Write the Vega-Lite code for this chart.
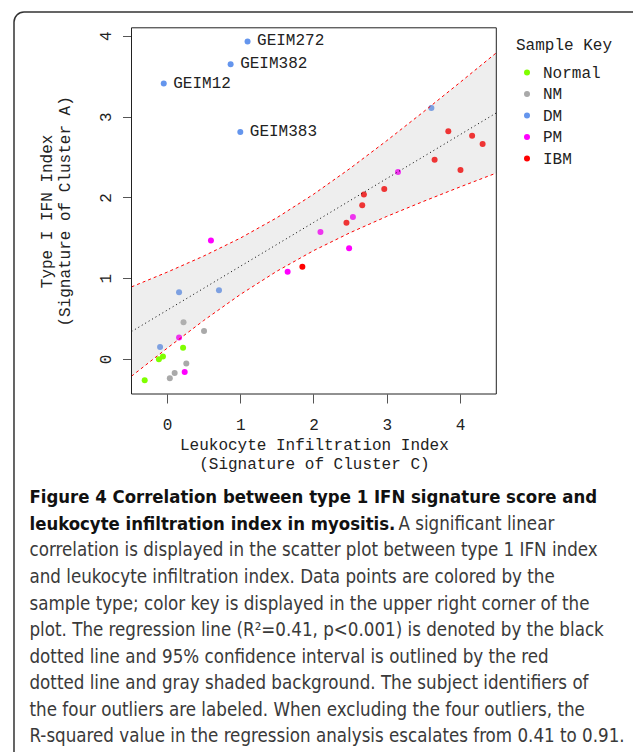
{
  "$schema": "https://vega.github.io/schema/vega-lite/v6.json",
  "width": 619,
  "height": 740,
  "autosize": {"type": "none"},
  "padding": {"left": 14, "top": 12, "right": 0, "bottom": 0},
  "background": "white",
  "config": {"view": {"stroke": null}, "font": "Liberation Mono"},
  "datasets": {
    "points": [
      {"x": 1.100, "y": 3.930, "type": "DM", "label": "GEIM272"},
      {"x": 0.869, "y": 3.649, "type": "DM", "label": "GEIM382"},
      {"x": -0.044, "y": 3.409, "type": "DM", "label": "GEIM12"},
      {"x": 1.001, "y": 2.810, "type": "DM", "label": "GEIM383"},
      {"x": 3.609, "y": 3.107, "type": "DM", "label": null},
      {"x": 0.165, "y": 0.826, "type": "DM", "label": null},
      {"x": 0.710, "y": 0.851, "type": "DM", "label": null},
      {"x": -0.094, "y": 0.149, "type": "DM", "label": null},
      {"x": 3.840, "y": 2.818, "type": "IBM", "label": null},
      {"x": 4.165, "y": 2.764, "type": "IBM", "label": null},
      {"x": 4.308, "y": 2.661, "type": "IBM", "label": null},
      {"x": 3.653, "y": 2.467, "type": "IBM", "label": null},
      {"x": 4.006, "y": 2.339, "type": "IBM", "label": null},
      {"x": 2.966, "y": 2.103, "type": "IBM", "label": null},
      {"x": 2.688, "y": 2.034, "type": "IBM", "label": null},
      {"x": 2.665, "y": 1.902, "type": "IBM", "label": null},
      {"x": 2.450, "y": 1.685, "type": "IBM", "label": null},
      {"x": 1.848, "y": 1.140, "type": "IBM", "label": null},
      {"x": 3.153, "y": 2.314, "type": "PM", "label": null},
      {"x": 2.538, "y": 1.758, "type": "PM", "label": null},
      {"x": 2.095, "y": 1.571, "type": "PM", "label": null},
      {"x": 2.486, "y": 1.371, "type": "PM", "label": null},
      {"x": 1.647, "y": 1.080, "type": "PM", "label": null},
      {"x": 0.600, "y": 1.467, "type": "PM", "label": null},
      {"x": 0.165, "y": 0.264, "type": "PM", "label": null},
      {"x": 0.242, "y": -0.161, "type": "PM", "label": null},
      {"x": 0.226, "y": 0.455, "type": "NM", "label": null},
      {"x": 0.506, "y": 0.347, "type": "NM", "label": null},
      {"x": 0.264, "y": -0.058, "type": "NM", "label": null},
      {"x": 0.105, "y": -0.174, "type": "NM", "label": null},
      {"x": 0.039, "y": -0.240, "type": "NM", "label": null},
      {"x": 0.220, "y": 0.140, "type": "Normal", "label": null},
      {"x": -0.055, "y": 0.029, "type": "Normal", "label": null},
      {"x": -0.110, "y": -0.004, "type": "Normal", "label": null},
      {"x": -0.304, "y": -0.264, "type": "Normal", "label": null}
    ],
    "band": [
      {"bx": -0.484, "fit": 0.339, "lo": -0.214, "hi": 0.892},
      {"bx": 0.0, "fit": 0.602, "lo": 0.131, "hi": 1.073},
      {"bx": 0.5, "fit": 0.874, "lo": 0.475, "hi": 1.273},
      {"bx": 1.0, "fit": 1.146, "lo": 0.797, "hi": 1.495},
      {"bx": 1.5, "fit": 1.417, "lo": 1.086, "hi": 1.748},
      {"bx": 2.0, "fit": 1.689, "lo": 1.340, "hi": 2.038},
      {"bx": 2.5, "fit": 1.961, "lo": 1.563, "hi": 2.359},
      {"bx": 3.0, "fit": 2.233, "lo": 1.764, "hi": 2.702},
      {"bx": 3.5, "fit": 2.504, "lo": 1.950, "hi": 3.058},
      {"bx": 4.0, "fit": 2.776, "lo": 2.129, "hi": 3.423},
      {"bx": 4.495, "fit": 3.045, "lo": 2.301, "hi": 3.789}
    ],
    "caption": [
      {"line": 1, "part": "title", "text": "Figure 4 Correlation between type 1 IFN signature score and"},
      {"line": 2, "part": "title", "text": "leukocyte infiltration index in myositis."},
      {"line": 2, "part": "lead", "text": "A significant linear"},
      {"line": 3, "part": "body", "text": "correlation is displayed in the scatter plot between type 1 IFN index"},
      {"line": 4, "part": "body", "text": "and leukocyte infiltration index. Data points are colored by the"},
      {"line": 5, "part": "body", "text": "sample type; color key is displayed in the upper right corner of the"},
      {"line": 6, "part": "body", "text": "plot. The regression line (R²=0.41, p<0.001) is denoted by the black"},
      {"line": 7, "part": "body", "text": "dotted line and 95% confidence interval is outlined by the red"},
      {"line": 8, "part": "body", "text": "dotted line and gray shaded background. The subject identifiers of"},
      {"line": 9, "part": "body", "text": "the four outliers are labeled. When excluding the four outliers, the"},
      {"line": 10, "part": "body", "text": "R-squared value in the regression analysis escalates from 0.41 to 0.91."}
    ]
  },
  "layer": [
    {
      "data": {"values": [{}]},
      "mark": {"type": "rect", "fill": "white", "fillOpacity": 0, "stroke": "#333333", "strokeWidth": 1.5, "cornerRadius": 10, "clip": false},
      "encoding": {
        "x": {"datum": 0, "type": "quantitative", "scale": {"domain": [0, 1], "range": [0, 619]}, "axis": null},
        "x2": {"datum": 1.1},
        "y": {"datum": 0, "type": "quantitative", "scale": {"domain": [0, 1], "range": [0, 740]}, "axis": null},
        "y2": {"datum": 1.1}
      }
    },
    {
      "data": {"name": "points"},
      "layer": [
        {
          "mark": {"type": "circle", "size": 36, "opacity": 1, "strokeWidth": 0},
          "encoding": {
            "x": {
              "field": "x", "type": "quantitative",
              "scale": {"domain": [-0.484, 4.495], "range": [117.5, 482.3], "nice": false, "zero": false},
              "axis": {
                "orient": "bottom", "offset": -358, "domain": false, "grid": false, "format": "d",
                "values": [0, 1, 2, 3, 4], "tickSize": 9, "tickColor": "#555555", "tickWidth": 1,
                "labelFont": "Liberation Mono", "labelFontSize": 16, "labelColor": "#222222", "labelPadding": 13,
                "title": ["Leukocyte Infiltration Index", "(Signature of Cluster C)"],
                "titleFont": "Liberation Mono", "titleFontSize": 16, "titleFontWeight": "normal", "titleColor": "#222222",
                "titleLineHeight": 19.6, "titleBaseline": "alphabetic", "titleY": 55
              }
            },
            "y": {
              "field": "y", "type": "quantitative",
              "scale": {"domain": [-0.434, 4.099], "range": [382, 15.8], "nice": false, "zero": false},
              "axis": {
                "orient": "left", "offset": -117.5, "domain": false, "grid": false, "format": "d",
                "values": [0, 1, 2, 3, 4], "tickSize": 9, "tickColor": "#555555", "tickWidth": 1,
                "labelFont": "Liberation Mono", "labelFontSize": 16, "labelColor": "#222222", "labelPadding": 12,
                "labelAngle": 270, "labelAlign": "center", "labelBaseline": "alphabetic",
                "title": ["Type I IFN Index", "(Signature of Cluster A)"],
                "titleFont": "Liberation Mono", "titleFontSize": 16, "titleFontWeight": "normal", "titleColor": "#222222",
                "titleLineHeight": 18, "titleBaseline": "alphabetic", "titleAngle": 270, "titleX": -80.5
              }
            },
            "color": {
              "field": "type", "type": "nominal",
              "scale": {"domain": ["Normal", "NM", "DM", "PM", "IBM"], "range": ["#7FFF00", "#A9A9A9", "#6495ED", "#FF00FF", "#FF0000"]},
              "legend": {
                "title": "Sample Key", "orient": "none", "legendX": 502, "legendY": 25, "padding": 0,
                "titleFont": "Liberation Mono", "titleFontSize": 16, "titleFontWeight": "normal", "titleColor": "#222222", "titlePadding": 11.5,
                "labelFont": "Liberation Mono", "labelFontSize": 16, "labelColor": "#222222",
                "symbolType": "circle", "symbolSize": 36, "symbolStrokeWidth": 0, "symbolOpacity": 1,
                "symbolOffset": 3, "labelOffset": 8, "rowPadding": 5.5
              }
            }
          }
        },
        {
          "data": {"name": "band"},
          "mark": {"type": "area", "fill": "#bfbfbf", "opacity": 0.27},
          "encoding": {
            "x": {"field": "bx", "type": "quantitative"},
            "y": {"field": "lo", "type": "quantitative"},
            "y2": {"field": "hi"}
          }
        },
        {
          "data": {"name": "band"},
          "mark": {"type": "line", "stroke": "#ff0000", "strokeWidth": 1, "strokeDash": [3, 3]},
          "encoding": {
            "x": {"field": "bx", "type": "quantitative"},
            "y": {"field": "hi", "type": "quantitative"}
          }
        },
        {
          "data": {"name": "band"},
          "mark": {"type": "line", "stroke": "#ff0000", "strokeWidth": 1, "strokeDash": [3, 3]},
          "encoding": {
            "x": {"field": "bx", "type": "quantitative"},
            "y": {"field": "lo", "type": "quantitative"}
          }
        },
        {
          "data": {"name": "band"},
          "mark": {"type": "line", "stroke": "#000000", "strokeWidth": 1, "strokeDash": [1, 3]},
          "encoding": {
            "x": {"field": "bx", "type": "quantitative"},
            "y": {"field": "fit", "type": "quantitative"}
          }
        },
        {
          "transform": [{"filter": "datum.label != null"}],
          "mark": {"type": "text", "align": "left", "baseline": "middle", "dx": 9.5, "dy": -1, "font": "Liberation Mono", "fontSize": 16, "fill": "#222222"},
          "encoding": {
            "x": {"field": "x", "type": "quantitative"},
            "y": {"field": "y", "type": "quantitative"},
            "text": {"field": "label"}
          }
        },
        {
          "data": {"values": [{}]},
          "mark": {"type": "rect", "fill": "white", "fillOpacity": 0, "stroke": "#222222", "strokeWidth": 1},
          "encoding": {
            "x": {"datum": -0.484, "type": "quantitative"},
            "x2": {"datum": 4.495},
            "y": {"datum": -0.434, "type": "quantitative"},
            "y2": {"datum": 4.099}
          }
        }
      ]
    },
    {
      "data": {"name": "caption"},
      "layer": [
        {
          "transform": [{"filter": "datum.part == 'title'"}],
          "mark": {"type": "text", "align": "left", "baseline": "alphabetic", "font": "DejaVu Sans Condensed, Roboto", "fontSize": 18.4, "fontWeight": "bold", "fill": "#111111"},
          "encoding": {
            "x": {"datum": 0, "type": "quantitative", "scale": {"domain": [0, 1], "range": [15.5, 619]}, "axis": null},
            "y": {"field": "line", "type": "quantitative", "scale": {"domain": [1, 10], "range": [491.3, 730.3]}, "axis": null},
            "text": {"field": "text"}
          }
        },
        {
          "transform": [{"filter": "datum.part == 'lead'"}],
          "mark": {"type": "text", "align": "left", "baseline": "alphabetic", "dx": 369, "font": "DejaVu Sans Condensed, Roboto", "fontSize": 18.6, "fill": "#3a3a3a"},
          "encoding": {
            "x": {"datum": 0, "type": "quantitative"},
            "y": {"field": "line", "type": "quantitative"},
            "text": {"field": "text"}
          }
        },
        {
          "transform": [{"filter": "datum.part == 'body'"}],
          "mark": {"type": "text", "align": "left", "baseline": "alphabetic", "font": "DejaVu Sans Condensed, Roboto", "fontSize": 18.6, "fill": "#3a3a3a"},
          "encoding": {
            "x": {"datum": 0, "type": "quantitative"},
            "y": {"field": "line", "type": "quantitative"},
            "text": {"field": "text"}
          }
        }
      ]
    }
  ],
  "resolve": {"scale": {"x": "independent", "y": "independent"}}
}
